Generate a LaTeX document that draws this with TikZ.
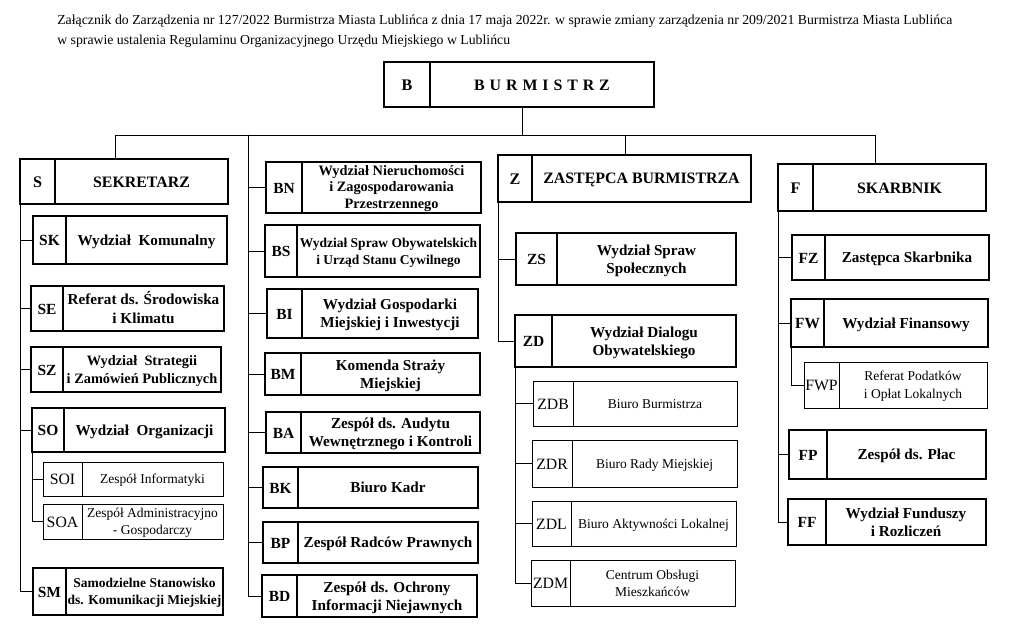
\documentclass[tikz,border=0pt]{standalone}
\usepackage{fontspec}
\setmainfont{Liberation Serif}

\newcommand\cellstrut{\rule[-0.18em]{0pt}{1.08em}}
% one unit: code cell + name cell, corners given in pixels of the page
\newcommand\orgunit[9][]{%
  \begin{scope}[#1]
    \node[code cell, minimum width={(#5-#3)*0.025cm}, minimum height={(#7-#4)*0.025cm}]
      (#2) at ({(#3+#5)/2},{(#4+#7)/2}) {\cellstrut#8};
    \node[name cell, minimum width={(#6-#5)*0.025cm}, minimum height={(#7-#4)*0.025cm}]
      (#2-t) at ({(#5+#6)/2},{(#4+#7)/2}) {\cellstrut#9\cellstrut};
  \end{scope}}

\begin{document}
\begin{tikzpicture}[
    x=0.025cm, y=-0.025cm,
    cell/.style={draw, line width=0.9pt, inner sep=0pt, outer sep=0pt, align=center},
    code cell/.style={cell, font=\bfseries\fontsize{11}{13}\selectfont},
    name cell/.style={cell, font=\bfseries\fontsize{10.8}{13}\selectfont},
    head/.style={code cell/.append style={line width=1.1pt, font=\bfseries\fontsize{11.5}{13}\selectfont},
                 name cell/.append style={line width=1.1pt, font=\bfseries\fontsize{11.3}{13}\selectfont}},
    small name/.style={name cell/.append style={font=\bfseries\fontsize{9.6}{12}\selectfont}},
    mid name/.style={name cell/.append style={font=\bfseries\fontsize{10.2}{12.5}\selectfont}},
    tight name/.style={name cell/.append style={font=\bfseries\fontsize{10.2}{11}\selectfont}},
    sub unit/.style={code cell/.append style={line width=0.6pt, font=\fontsize{11.2}{13}\selectfont},
                     name cell/.append style={line width=0.6pt, font=\fontsize{9.6}{12.5}\selectfont}},
    link/.style={line width=0.7pt},
  ]
  \useasboundingbox (0,0) rectangle (1011,628);

  \node[anchor=north west, align=left, inner sep=0pt, font=\fontsize{9.8}{14.2}\selectfont] (title) at (57,15)
    {Załącznik do Zarządzenia nr 127/2022 Burmistrza Miasta Lublińca z dnia 17 maja 2022r. w sprawie zmiany zarządzenia nr 209/2021 Burmistrza Miasta Lublińca\\
     w sprawie ustalenia Regulaminu Organizacyjnego Urzędu Miejskiego w Lublińcu};

  % top
  \orgunit[head]{B}{384}{62}{430}{654}{107}{B}{B\hspace{3.5pt}U\hspace{3.5pt}R\hspace{3.5pt}M\hspace{3.5pt}I\hspace{3.5pt}S\hspace{3.5pt}T\hspace{3.5pt}R\hspace{3.5pt}Z}

  % sekretarz
  \orgunit[head]{S}{20}{159}{55}{228}{204}{S}{SEKRETARZ}
  \orgunit{SK}{33}{216}{66}{227}{264}{SK}{Wydział\ \ Komunalny}
  \orgunit{SE}{31}{286}{63}{224}{331}{SE}{Referat ds. Środowiska\\i Klimatu}
  \orgunit[mid name]{SZ}{31}{347}{63}{221}{392}{SZ}{Wydział\ \ Strategii\\i Zamówień Publicznych}
  \orgunit{SO}{32}{408}{64}{225}{452}{SO}{Wydział\ \ Organizacji}
  \orgunit[sub unit]{SOI}{43}{462}{82}{223}{496}{SOI}{Zespół Informatyki}
  \orgunit[sub unit]{SOA}{43}{504}{82}{223}{539}{SOA}{Zespół Administracyjno\\- Gospodarczy}
  \orgunit[small name]{SM}{33}{568}{66}{223}{615}{SM}{Samodzielne Stanowisko\\ds. Komunikacji Miejskiej}

  % burmistrz
  \orgunit[tight name]{BN}{266}{162}{302}{481}{213}{BN}{Wydział Nieruchomości\\i Zagospodarowania\\Przestrzennego}
  \orgunit[small name]{BS}{265}{225}{297}{480}{277}{BS}{Wydział Spraw Obywatelskich\\i Urząd Stanu Cywilnego}
  \orgunit{BI}{267}{289}{302}{478}{338}{BI}{Wydział Gospodarki\\Miejskiej i Inwestycji}
  \orgunit{BM}{265}{353}{301}{480}{395}{BM}{Komenda Straży\\Miejskiej}
  \orgunit{BA}{266}{412}{301}{480}{453}{BA}{Zespół ds. Audytu\\Wewnętrznego i Kontroli}
  \orgunit{BK}{263}{467}{298}{478}{508}{BK}{Biuro Kadr}
  \orgunit{BP}{263}{522}{298}{478}{563}{BP}{Zespół Radców Prawnych}
  \orgunit{BD}{262}{575}{297}{477}{617}{BD}{Zespół ds. Ochrony\\Informacji Niejawnych}

  % zastepca
  \orgunit[head]{Z}{498}{155}{532}{751}{202}{Z}{ZASTĘPCA BURMISTRZA}
  \orgunit{ZS}{516}{233}{557}{736}{285}{ZS}{Wydział Spraw\\Społecznych}
  \orgunit{ZD}{515}{315}{552}{736}{367}{ZD}{Wydział Dialogu\\Obywatelskiego}
  \orgunit[sub unit]{ZDB}{533}{381}{573}{737}{426}{ZDB}{Biuro Burmistrza}
  \orgunit[sub unit]{ZDR}{532}{440}{572}{737}{487}{ZDR}{Biuro Rady Miejskiej}
  \orgunit[sub unit]{ZDL}{532}{501}{571}{736}{546}{ZDL}{Biuro Aktywności Lokalnej}
  \orgunit[sub unit]{ZDM}{531}{560}{570}{735}{606}{ZDM}{Centrum Obsługi\\Mieszkańców}

  % skarbnik
  \orgunit[head]{F}{778}{164}{813}{986}{211}{F}{SKARBNIK}
  \orgunit{FZ}{792}{235}{825}{989}{280}{FZ}{Zastępca Skarbnika}
  \orgunit{FW}{791}{299}{824}{988}{347}{FW}{Wydział Finansowy}
  \orgunit[sub unit]{FWP}{804}{362}{839}{987}{408}{FWP}{Referat Podatków\\i Opłat Lokalnych}
  \orgunit{FP}{789}{430}{827}{986}{479}{FP}{Zespół ds. Płac}
  \orgunit{FF}{788}{499}{826}{986}{545}{FF}{Wydział Funduszy\\i Rozliczeń}

  % connectors
  \coordinate (top) at (522,135);
  \coordinate (bar-l) at (115,135);
  \coordinate (bar-z) at (625,135);
  \coordinate (bar-r) at (875,135);
  \coordinate (col2) at (248,135);
  \draw[link] (B-t.south -| top) -- (top);
  \draw[link] (bar-l) -- (bar-r);
  \draw[link] (bar-l) -- (bar-l |- S-t.north);
  \draw[link] (bar-z) -- (bar-z |- Z-t.north);
  \draw[link] (bar-r) -- (bar-r |- F-t.north);
  \foreach \n in {SK,SE,SZ,SO,SM}
    \draw[link] (S.south west) |- (\n.west);
  \foreach \n in {SOI,SOA}
    \draw[link] (SO.south west) |- (\n.west);
  \foreach \n in {BN,BS,BI,BM,BA,BK,BP,BD}
    \draw[link] (col2) |- (\n.west);
  \foreach \n in {ZS,ZD}
    \draw[link] (Z.south west) |- (\n.west);
  \foreach \n in {ZDB,ZDR,ZDL,ZDM}
    \draw[link] (ZD.south west) |- (\n.west);
  \foreach \n in {FZ,FW,FP,FF}
    \draw[link] (F.south west) |- (\n.west);
  \draw[link] (FW.south west) |- (FWP.west);
\end{tikzpicture}
\end{document}
